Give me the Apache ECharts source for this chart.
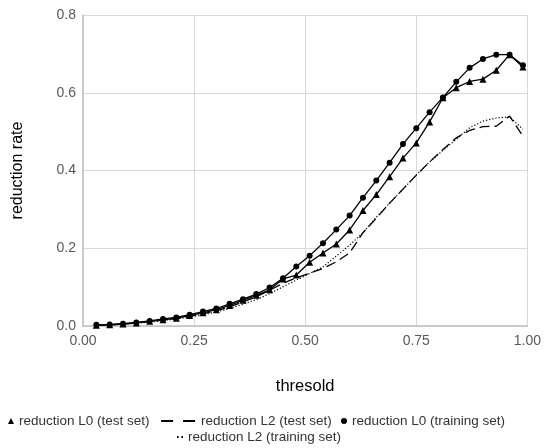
<!DOCTYPE html>
<html>
<head>
<meta charset="utf-8">
<script src="https://cdn.jsdelivr.net/npm/echarts@6/dist/echarts.min.js"></script>
<style>html,body{margin:0;padding:0;background:#fff}#c{width:544px;height:448px}</style>
</head>
<body>
<div id="c"></div>
<script>
const thresholds = [0.03,0.06,0.09,0.12,0.15,0.18,0.21,0.24,0.27,0.30,0.33,0.36,0.39,0.42,0.45,0.48,0.51,0.54,0.57,0.60,0.63,0.66,0.69,0.72,0.75,0.78,0.81,0.84,0.87,0.90,0.93,0.96,0.99];
const l0Test = [0.002,0.003,0.005,0.008,0.012,0.016,0.020,0.027,0.034,0.042,0.053,0.066,0.079,0.093,0.121,0.131,0.164,0.188,0.211,0.247,0.297,0.338,0.384,0.432,0.471,0.525,0.587,0.613,0.629,0.635,0.658,0.698,0.666];
const l2Test = [0.002,0.003,0.005,0.008,0.011,0.015,0.019,0.025,0.031,0.039,0.049,0.062,0.075,0.092,0.110,0.124,0.136,0.148,0.165,0.188,0.240,0.277,0.316,0.352,0.388,0.422,0.454,0.484,0.503,0.513,0.514,0.540,0.488];
const l0Train = [0.003,0.004,0.006,0.009,0.013,0.018,0.022,0.029,0.037,0.045,0.057,0.069,0.082,0.099,0.123,0.153,0.181,0.213,0.248,0.284,0.330,0.374,0.420,0.468,0.509,0.550,0.588,0.628,0.664,0.687,0.698,0.698,0.671];
const l2Train = [0.002,0.003,0.005,0.007,0.010,0.014,0.018,0.023,0.029,0.036,0.045,0.056,0.068,0.083,0.101,0.118,0.135,0.152,0.180,0.208,0.240,0.280,0.316,0.352,0.388,0.422,0.452,0.480,0.510,0.527,0.535,0.538,0.506];
const xTicks = ['0.00','0.25','0.50','0.75','1.00'];
const yTicks = ['0.0','0.2','0.4','0.6','0.8'];
const names = ['reduction L0 (test set)','reduction L2 (test set)','reduction L0 (training set)','reduction L2 (training set)'];

const pairs = arr => thresholds.map((t, i) => [t, arr[i]]);
const legendText = {fontSize: 13.5, color: '#333', fontFamily: 'Liberation Sans, Arial, sans-serif'};
const hideSym = {color: 'rgba(0,0,0,0)', borderWidth: 0, opacity: 0};

const chart = echarts.init(document.getElementById('c'), null, {renderer: 'canvas'});
chart.setOption({
  animation: false,
  backgroundColor: '#fff',
  textStyle: {fontFamily: 'Liberation Sans, Arial, sans-serif'},
  grid: {left: 83, right: 14, top: 15, bottom: 122, containLabel: false},
  xAxis: {
    type: 'value', min: 0, max: 1, interval: 0.25,
    name: 'thresold', nameLocation: 'middle', nameGap: 52,
    nameTextStyle: {fontSize: 16.5, color: '#000'},
    axisLine: {show: true, lineStyle: {color: '#bfbfbf', width: 1.5}},
    axisTick: {show: false},
    axisLabel: {fontSize: 14, color: '#595959', margin: 8,
      formatter: v => xTicks[Math.round(v / 0.25)] ?? ''},
    splitLine: {show: true, lineStyle: {color: '#d9d9d9', width: 1}}
  },
  yAxis: {
    type: 'value', min: 0, max: 0.8, interval: 0.2,
    name: 'reduction rate', nameLocation: 'middle', nameGap: 57,
    nameTextStyle: {fontSize: 16, color: '#000'},
    axisLine: {show: true, lineStyle: {color: '#bfbfbf', width: 1.5}},
    axisTick: {show: false},
    axisLabel: {fontSize: 14, color: '#595959', margin: 7,
      formatter: v => yTicks[Math.round(v / 0.2)] ?? ''},
    splitLine: {show: true, lineStyle: {color: '#d9d9d9', width: 1}}
  },
  legend: [
    {left: 8, top: 414, padding: 0, itemWidth: 6, itemHeight: 6, textStyle: legendText,
      data: [{name: names[0], icon: 'triangle'}]},
    {left: 160, top: 414, padding: 0, itemWidth: 35, itemHeight: 6, textStyle: legendText,
      data: [{name: names[1], itemStyle: hideSym, lineStyle: {type: [12, 10], width: 2.2, color: '#000'}}]},
    {left: 341, top: 414, padding: 0, itemWidth: 6, itemHeight: 6, textStyle: legendText,
      data: [{name: names[2], icon: 'circle'}]},
    {left: 176, top: 430, padding: 0, itemWidth: 6, itemHeight: 6, textStyle: legendText,
      data: [{name: names[3], itemStyle: hideSym, lineStyle: {type: [1.6, 2.8], width: 2, color: '#000'}}]}
  ],
  series: [
    {name: names[0], type: 'line', data: pairs(l0Test), symbol: 'triangle', symbolSize: 7,
      showAllSymbol: true, itemStyle: {color: '#000'}, lineStyle: {color: '#000', width: 1.3}, z: 3},
    {name: names[1], type: 'line', data: pairs(l2Test), symbol: 'none',
      itemStyle: {color: '#000'}, lineStyle: {color: '#000', width: 1.3, type: [10, 5]}, z: 2},
    {name: names[2], type: 'line', data: pairs(l0Train), symbol: 'circle', symbolSize: 6,
      showAllSymbol: true, itemStyle: {color: '#000'}, lineStyle: {color: '#000', width: 1.3}, z: 4},
    {name: names[3], type: 'line', data: pairs(l2Train), symbol: 'none',
      itemStyle: {color: '#000'}, lineStyle: {color: '#000', width: 1.2, type: [1.2, 2]}, z: 2}
  ]
});
</script>
</body>
</html>
